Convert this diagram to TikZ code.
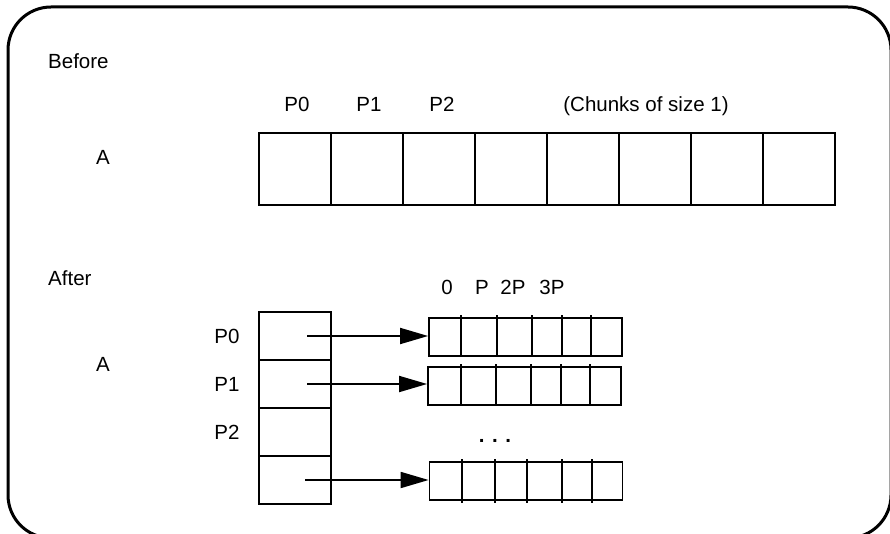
\documentclass[tikz,border=0pt]{standalone}
\usepackage{fontspec}
\setmainfont{Liberation Sans}
\usetikzlibrary{arrows.meta}
\tikzset{
  cell/.style={draw, line width=1.8pt, minimum width=72pt, minimum height=72pt, inner sep=0pt},
  slot/.style={draw, line width=1.8pt, minimum width=72pt, minimum height=48pt, inner sep=0pt},
  chunk/.style={draw, line width=1.8pt, minimum width=193pt, minimum height=38pt, inner sep=0pt},
  ptr/.style={-{Triangle[length=28pt,width=16pt]}, line width=1.8pt},
  lbl/.style={inner sep=0pt, anchor=base}
}

\begin{document}
\begin{tikzpicture}[x=1pt, y=-1pt, font=\fontsize{20.5}{24}\selectfont]
\clip (0,0) rectangle (890,534);
\draw[line width=3pt, rounded corners=43pt] (8,7) rectangle (891,538);

% before
\node[lbl, anchor=base west] (before) at (48,69) {Before};
\node[lbl] (atop) at (103,165) {A};
\foreach \i in {0,...,7}
  \node[cell] (a\i) at (295+72*\i,169) {};
\node[lbl] (p0top) at (297,112) {P0};
\node[lbl] (p1top) at (369,112) {P1};
\node[lbl] (p2top) at (442,112) {P2};
\node[lbl] (chunks) at (646,112) {(Chunks of size 1)};

% after
\node[lbl, anchor=base west] (after) at (48,285) {After};
\node[lbl] (abot) at (103,371) {A};
\foreach \i/\y in {0/336,1/384,2/432,3/480}
  \node[slot] (s\i) at (295,\y) {};
\node[lbl] (p0) at (227,343) {P0};
\node[lbl] (p1) at (227,391) {P1};
\node[lbl] (p2) at (227,439) {P2};

\node[chunk] (r0) at (525.5,337) {};
\node[chunk] (r1) at (524.5,386) {};
\node[chunk] (r3) at (526,481) {};
\foreach \x in {461,497,532,562,591}
  \draw[line width=1.8pt] (\x,315) -- (\x,356);
\foreach \x in {461,496,531,561,590}
  \draw[line width=1.8pt] (\x,364) -- (\x,405);
\foreach \x in {462,495,527,562,592}
  \draw[line width=1.8pt] (\x,459) -- (\x,503);

\node[lbl] (o0) at (447,294) {0};
\node[lbl] (o1) at (482,294) {P};
\node[lbl] (o2) at (513,294) {2P};
\node[lbl] (o3) at (552,294) {3P};
\node[lbl] (dots) at (495,442) {\bfseries . . .};

\draw[ptr] ([xshift=12pt]s0.center) -- (s0.center -| r0.west);
\draw[ptr] ([xshift=12pt]s1.center) -- (s1.center -| r1.west);
\draw[ptr] ([xshift=10pt]s3.center) -- (s3.center -| r3.west);
\end{tikzpicture}
\end{document}
